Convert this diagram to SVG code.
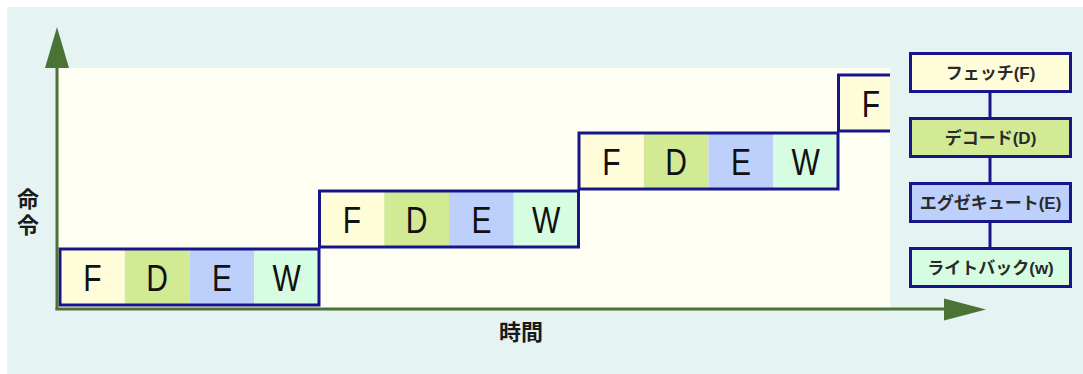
<svg xmlns="http://www.w3.org/2000/svg" width="1083" height="374" viewBox="0 0 1083 374">
<style>
.bg{fill:#E5F3F3}
.panel{fill:#FEFEF3}
.f{fill:#FFFCD9}.d{fill:#D3EA95}.e{fill:#BDD0FB}.w{fill:#D6FCE2}
.box{fill:none;stroke:#16168A;stroke-width:3}
.lbox{stroke:#16168A;stroke-width:3}
.axis{stroke:#4A7335;stroke-width:3;fill:none}
.ah{fill:#4A7335}
.L{font-family:"Liberation Sans",Arial,sans-serif;font-size:30px;fill:#111;text-anchor:middle}
.lg{font-family:"Liberation Sans","Noto Sans CJK JP",sans-serif;font-size:17px;font-weight:bold;fill:#2a2a2a;text-anchor:middle}
.ax{font-family:"Noto Sans CJK JP",sans-serif;font-size:22px;font-weight:bold;fill:#1a1a1a;text-anchor:middle}
.conn{stroke:#16168A;stroke-width:3}
</style>
<rect class="bg" x="7" y="7" width="1076" height="367"/>
<rect class="panel" x="58" y="68" width="832" height="240"/>

<g id="row1">
<rect class="f" x="60" y="249" width="64.75" height="56"/>
<rect class="d" x="124.75" y="249" width="64.75" height="56"/>
<rect class="e" x="189.5" y="249" width="64.75" height="56"/>
<rect class="w" x="254.25" y="249" width="64.75" height="56"/>
<rect class="box" x="60" y="249" width="259" height="56"/>
<text class="L" transform="translate(92.4,291) scale(1,1.25)">F</text>
<text class="L" transform="translate(157.1,291) scale(1,1.25)">D</text>
<text class="L" transform="translate(221.9,291) scale(1,1.25)">E</text>
<text class="L" transform="translate(286.6,291) scale(1,1.25)">W</text>
</g>
<g id="row2">
<rect class="f" x="319.5" y="191" width="64.75" height="56"/>
<rect class="d" x="384.25" y="191" width="64.75" height="56"/>
<rect class="e" x="449" y="191" width="64.75" height="56"/>
<rect class="w" x="513.75" y="191" width="64.75" height="56"/>
<rect class="box" x="319.5" y="191" width="259" height="56"/>
<text class="L" transform="translate(351.9,233) scale(1,1.25)">F</text>
<text class="L" transform="translate(416.6,233) scale(1,1.25)">D</text>
<text class="L" transform="translate(481.4,233) scale(1,1.25)">E</text>
<text class="L" transform="translate(546.1,233) scale(1,1.25)">W</text>
</g>
<g id="row3">
<rect class="f" x="579" y="133" width="64.75" height="56"/>
<rect class="d" x="643.75" y="133" width="64.75" height="56"/>
<rect class="e" x="708.5" y="133" width="64.75" height="56"/>
<rect class="w" x="773.25" y="133" width="64.75" height="56"/>
<rect class="box" x="579" y="133" width="259" height="56"/>
<text class="L" transform="translate(611.4,175) scale(1,1.25)">F</text>
<text class="L" transform="translate(676.1,175) scale(1,1.25)">D</text>
<text class="L" transform="translate(740.9,175) scale(1,1.25)">E</text>
<text class="L" transform="translate(805.6,175) scale(1,1.25)">W</text>
</g>
<g id="row4">
<rect class="f" x="838.5" y="75" width="51.5" height="56"/>
<path class="box" d="M890,75 H838.5 V131 H890"/>
<text class="L" transform="translate(870.9,117) scale(1,1.25)">F</text>
</g>

<g id="axes">
<line class="axis" x1="57" y1="310" x2="57" y2="66"/>
<polygon class="ah" points="57,27 45,68 69,68"/>
<line class="axis" x1="55.5" y1="309" x2="946" y2="309"/>
<polygon class="ah" points="986,309.5 944,298.5 944,320.5"/>
<text class="ax" x="28" y="188" writing-mode="vertical-rl" style="text-anchor:start;letter-spacing:4px">命令</text>
<text class="ax" x="521" y="340">時間</text>
</g>

<g id="connectors">
<line class="conn" x1="990" y1="92" x2="990" y2="118"/>
<line class="conn" x1="990" y1="157" x2="990" y2="183"/>
<line class="conn" x1="990" y1="222" x2="990" y2="248"/>
</g>

<g id="legend-fetch">
<rect class="lbox f" x="910.5" y="53.5" width="160" height="38"/>
<text class="lg" x="990.5" y="78.5">フェッチ(F)</text>
</g>
<g id="legend-decode">
<rect class="lbox d" x="910.5" y="118.5" width="160" height="38"/>
<text class="lg" x="990.5" y="143.5">デコード(D)</text>
</g>
<g id="legend-execute">
<rect class="lbox e" x="910.5" y="183.5" width="160" height="38"/>
<text class="lg" x="990.5" y="208.5">エグゼキュート(E)</text>
</g>
<g id="legend-writeback">
<rect class="lbox w" x="910.5" y="248.5" width="160" height="38"/>
<text class="lg" x="990.5" y="273.5">ライトバック(w)</text>
</g>
</svg>
